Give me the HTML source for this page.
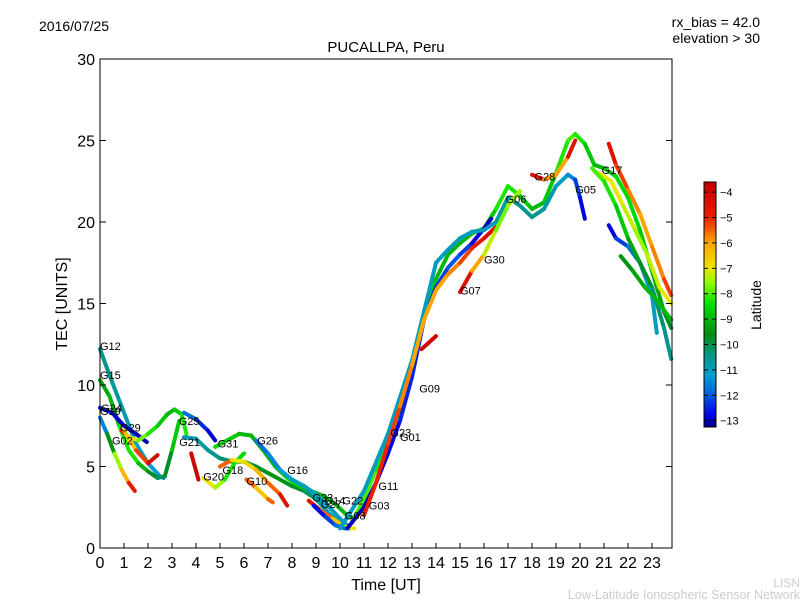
<!DOCTYPE html>
<html><head><meta charset="utf-8">
<style>
body{margin:0;background:#fff;}
svg{display:block;font-family:"Liberation Sans","DejaVu Sans",sans-serif;}
</style></head>
<body>
<svg id="chart" width="800" height="600" viewBox="0 0 800 600">
<rect width="800" height="600" fill="#fff"/>
<text x="39" y="31" font-size="14">2016/07/25</text>
<text x="760" y="27" font-size="14" text-anchor="end">rx_bias = 42.0</text>
<text x="760" y="43" font-size="14" text-anchor="end">elevation &gt; 30</text>
<text x="386" y="52" font-size="15" text-anchor="middle">PUCALLPA, Peru</text>
<text x="386" y="590" font-size="16" text-anchor="middle">Time [UT]</text>
<text transform="translate(67,304) rotate(-90)" font-size="16" text-anchor="middle">TEC [UNITS]</text>
<text x="800" y="587" font-size="12" fill="#ccc" text-anchor="end">LISN</text>
<text x="800" y="599" font-size="12.5" fill="#ccc" text-anchor="end">Low-Latitude Ionospheric Sensor Network</text>
<g id="marks"></g>
<g id="labels"></g>
<g id="axes"></g>
<g id="cbar"></g>
</svg>
<script>
const xTicks=[0,1,2,3,4,5,6,7,8,9,10,11,12,13,14,15,16,17,18,19,20,21,22,23];
const yTicks=[0,5,10,15,20,25,30];
const cbTicks=[-4,-5,-6,-7,-8,-9,-10,-11,-12,-13];
const trackNames=["G12","G15","G24","G02","G29","G02b","G25","G21","G31","G26","G20","G18","G10","G21r","G33","G27","A1","A2","A3","A4","G07","G28","G17","R1","B1","GR1","GR2","RB"];
const trackHours=[
[0,0.5,1,1.5,2,2.5,2.65],
[0,0.4,0.8,1.2,1.6,2,2.4,2.7,3,3.3],
[0,0.5,1,1.5,1.95],
[0,0.3,0.6,0.9,1.2,1.45],
[0.9,1.2,1.6,2,2.4,2.8,3.1,3.4,3.6],
[1.0,1.5,2.0,2.4],
[3.5,4,4.5,4.8],
[3.5,4,4.5,5,5.5,6,6.5,7,7.5,8,8.5,9,9.5,10,10.4],
[4.8,5.3,5.8,6.3,6.8,7.3,7.8,8.3,8.8,9.3,9.8,10.3,10.6],
[6.5,7,7.5,8,8.5,9,9.5,10,10.3],
[4.3,4.8,5.2,5.6,6.0],
[5.0,5.5,6.0,6.5,7.0,7.5,7.8],
[6.1,6.5,7.0,7.2],
[3.8,4.1],
[8.7,9.2,9.7,10.2,10.6],
[8.9,9.4,9.8,10.2],
[10.5,11,11.5,12,12.5,13,13.5,14,14.5,15,15.5,16,16.5,17,17.5,18,18.5,19,19.5,19.8,20.2,20.6,21,21.5,22,22.5,23,23.5,23.8],
[10.3,11,11.5,12,12.5,13,13.5,14,14.5,15,15.5,16,16.3],
[10,11,12,13,13.5,14,14.5,15,15.5,16,16.5,17,17.5,18,18.5,19,19.5,19.8,20,20.2],
[11,11.5,12,12.5,13,13.5,14,14.5,15,15.5,16,16.5],
[15,15.5,16,16.5,17,17.5],
[18,18.5,19,19.5,19.8],
[20.8,21.3,21.8,22.3,22.8,23.3,23.8],
[21.2,21.5,22,22.5,23,23.5,23.8],
[21.2,21.5,22,22.5,23,23.2],
[20.5,21,21.5,22,22.5,23,23.5,23.8],
[21.7,22.2,22.7,23.2,23.8],
[13.4,13.7,14]
];
const trackTec=[
[12.2,10.2,8.3,6.4,5.2,4.4,4.3],
[10.3,9.3,7.5,6.0,5.2,4.7,4.3,4.4,6.0,7.8],
[8.6,8.3,7.5,7.0,6.5],
[8.0,7.0,5.8,4.8,4.0,3.5],
[7.2,6.8,6.6,7.0,7.5,8.2,8.5,8.2,7.0],
[7.2,6.0,5.2,5.7],
[8.3,7.9,7.2,6.6],
[6.8,6.7,6.0,5.5,5.3,5.3,5.0,4.6,4.2,3.8,3.5,3.0,2.2,1.5,1.2],
[6.2,6.6,7.0,6.9,6.0,5.0,4.3,3.8,3.5,3.2,2.7,2.0,1.8],
[6.6,5.8,4.8,4.2,3.8,3.3,2.6,1.8,1.4],
[4.3,3.7,4.2,5.2,5.8],
[5.0,5.4,5.3,4.8,4.0,3.3,2.6],
[4.2,3.7,3.0,2.8],
[5.8,4.2],
[2.9,2.3,1.8,1.3,1.2],
[2.6,1.9,1.4,1.2],
[1.6,3.0,4.8,6.6,8.5,11,14,16.5,18,18.7,19.3,19.6,20.8,22.2,21.6,20.8,21.2,23,25,25.4,24.8,23.5,23.3,22.8,21.5,19.5,17,14.5,13.5],
[1.2,2.5,4.0,5.8,7.8,10.5,14,16,17.2,18,18.7,19.6,20.2],
[1.2,3.5,7,11.5,14.5,17.5,18.3,19,19.4,19.5,20,21.5,21,20.3,20.8,22.2,22.9,22.6,21.5,20.2],
[2.0,4.0,6.4,8.7,11.2,14,15.8,16.8,17.5,18.4,19,19.7],
[15.7,17,18,19.5,21,21.9],
[22.9,22.6,22.9,24,25],
[23,22.5,21,19.5,18,16,15],
[24.8,23.5,22,20.5,18.5,16.5,15.5],
[19.8,19,18.5,17.5,15.5,13.2],
[23.3,22.5,21,19,17.5,16,13.5,11.6],
[17.9,17,16,15.2,14],
[12.2,12.6,13]
];
const trackLat=[
[-10.5,-10.5,-10.8,-11,-11.2,-11.3,-11.5],
[-9,-9.5,-8.5,-8,-8.5,-9.5,-10,-10.5,-9,-8.5],
[-12.5,-12.8,-13,-13,-13],
[-12,-11,-8,-7,-5.5,-4],
[-4,-6,-7.5,-8,-8.5,-9,-9,-8.5,-8],
[-7,-6,-4.5,-4],
[-11.5,-12,-12.8,-13],
[-11,-11,-10.5,-10.5,-10,-10,-10,-9.5,-9.5,-9.5,-10,-10.5,-11,-11,-11],
[-8.5,-8.5,-9,-9,-9,-9,-8.5,-8.5,-9,-9,-9,-9,-9],
[-12,-11.5,-11.5,-11,-11,-11,-11,-11,-11],
[-7,-7,-8,-8.5,-8.5],
[-4,-7,-7,-6.5,-6,-5,-4],
[-4,-7,-6,-5],
[-4,-4],
[-4,-5,-6,-7,-7],
[-13,-12.5,-12,-11.5],
[-8,-8,-8,-8.5,-9,-8.5,-8.5,-9,-9,-9,-9,-9,-8.5,-8,-8.5,-9,-9,-8.5,-8,-8,-8.5,-9,-9,-8.5,-8.5,-8.5,-9,-9.5,-10],
[-13,-13,-13,-13,-12.5,-12.5,-12.5,-12.5,-12,-12,-12.5,-13,-13],
[-11,-11,-11,-11,-11,-11,-11,-11,-11,-11,-11,-10.5,-10.5,-10.5,-10.5,-11,-11,-12,-12.5,-13],
[-5,-5,-5,-5.5,-6,-6,-6,-6,-5.5,-5,-4.5,-4],
[-4,-5,-7,-7.5,-8,-7],
[-4,-5,-7,-5,-4],
[-7,-7,-7,-7.5,-7.5,-7,-7],
[-4,-5,-5.5,-6,-6,-5.5,-5],
[-13,-12.5,-12,-11.5,-11,-11],
[-8,-8,-8.5,-9,-9.5,-10,-10.5,-10.5],
[-9.5,-9.5,-9,-9,-9],
[-4,-4,-4]
];
const labelNames=["G12","G15","G24","G19","G29","G02","G25","G21","G31","G26","G20","G18","G16","G10","G33","G27","G14","G22","G08","G03","G11","G23","G01","G09","G07","G30","G06","G28","G05","G17"];
const labelHours=[0,0,0.05,0,0.83,0.5,3.28,3.3,4.9,6.55,4.3,5.1,7.8,6.1,8.85,9.2,9.35,10.1,10.2,11.2,11.6,12.1,12.5,13.3,15,16,16.9,18.1,19.8,20.9];
const labelTec=[12.4,10.6,8.6,8.4,7.4,6.6,7.8,6.5,6.4,6.6,4.4,4.8,4.8,4.1,3.1,2.7,2.9,2.9,2.0,2.6,3.8,7.1,6.8,9.8,15.8,17.7,21.4,22.8,22.0,23.2];

const X0=100,X1=672,Y0=548,Y1=59;
const xs=h=>X0+h*24;
const ys=v=>Y0-(v/30)*(Y0-Y1);
const CB0=-13.25,CB1=-3.6, CBy0=427, CBy1=182;
const cbs=l=>CBy0-(l-CB0)/(CB1-CB0)*(CBy0-CBy1);
const CM=[[-13.25,0,0,140],[-12.8,0,0,225],[-12,0,90,225],[-11.2,0,160,210],[-10.5,0,150,140],[-9.6,0,140,20],[-8.4,0,225,0],[-7.6,140,250,0],[-7,235,230,0],[-6,255,165,0],[-5,235,30,0],[-3.6,190,0,0]];
function latColor(l){
 if(l<=CM[0][0])return `rgb(${CM[0][1]},${CM[0][2]},${CM[0][3]})`;
 for(let k=1;k<CM.length;k++){if(l<=CM[k][0]){const a=CM[k-1],b=CM[k],t=(l-a[0])/(b[0]-a[0]);
  return `rgb(${Math.round(a[1]+t*(b[1]-a[1]))},${Math.round(a[2]+t*(b[2]-a[2]))},${Math.round(a[3]+t*(b[3]-a[3]))})`;}}
 const z=CM[CM.length-1];return `rgb(${z[1]},${z[2]},${z[3]})`;}
const NS="http://www.w3.org/2000/svg";
function mk(tag,attrs,parent){const e=document.createElementNS(NS,tag);for(const k in attrs)e.setAttribute(k,attrs[k]);parent.appendChild(e);return e;}

const marks=document.getElementById('marks');
trackNames.forEach((nm,i)=>{
 const g=mk('g',{},marks);
 
 
 const H=trackHours[i],T=trackTec[i],L=trackLat[i];
 for(let j=0;j<H.length-1;j++){
  const seg=mk('line',{x1:xs(H[j]),y1:ys(T[j]),x2:xs(H[j+1]),y2:ys(T[j+1]),stroke:latColor((L[j]+L[j+1])/2),'stroke-width':4,'stroke-linecap':'round'},g);
  
  
 }
});
const labels=document.getElementById('labels');
labelNames.forEach((nm,i)=>{
 const t=mk('text',{x:xs(labelHours[i]),y:ys(labelTec[i])+4,'font-size':11},labels);
 t.textContent=nm;
 
 
});
const axes=document.getElementById('axes');
const frame=mk('rect',{x:X0,y:Y1,width:X1-X0,height:Y0-Y1,fill:'none',stroke:'#000','stroke-width':1},axes);


xTicks.forEach(h=>{
 const x=xs(h);
 mk('line',{x1:x,y1:Y0,x2:x,y2:Y0-5,stroke:'#000'},axes);
 const t=mk('text',{x:x,y:Y0+20,'font-size':16,'text-anchor':'middle'},axes);
 t.textContent=h;
 
 
});
yTicks.forEach(v=>{
 const y=ys(v);
 mk('line',{x1:X0,y1:y,x2:X0+6,y2:y,stroke:'#000'},axes);
 mk('line',{x1:X1,y1:y,x2:X1-6,y2:y,stroke:'#000'},axes);
 const t=mk('text',{x:X0-5,y:y+6,'font-size':16,'text-anchor':'end'},axes);
 t.textContent=v;
 
 
});
const cb=document.getElementById('cbar');
const defs=mk('defs',{},cb);
const grad=mk('linearGradient',{id:'cmg',x1:0,y1:1,x2:0,y2:0},defs);
CM.forEach(s=>mk('stop',{offset:(s[0]-CB0)/(CB1-CB0),'stop-color':`rgb(${s[1]},${s[2]},${s[3]})`},grad));
const cbr=mk('rect',{x:704,y:CBy1,width:12,height:CBy0-CBy1,fill:'url(#cmg)',stroke:'#000','stroke-width':1},cb);


cbTicks.forEach(l=>{
 const y=cbs(l);
 mk('line',{x1:712,y1:y,x2:716,y2:y,stroke:'#000'},cb);
 mk('line',{x1:704,y1:y,x2:708,y2:y,stroke:'#000'},cb);
 const t=mk('text',{x:720,y:y+4,'font-size':11},cb);
 t.textContent='\u2212'+Math.abs(l);
 
 
});
const cl=mk('text',{transform:'translate(761,305) rotate(-90)','font-size':14,'text-anchor':'middle'},cb);
cl.textContent='Latitude';


</script>
</body></html>
